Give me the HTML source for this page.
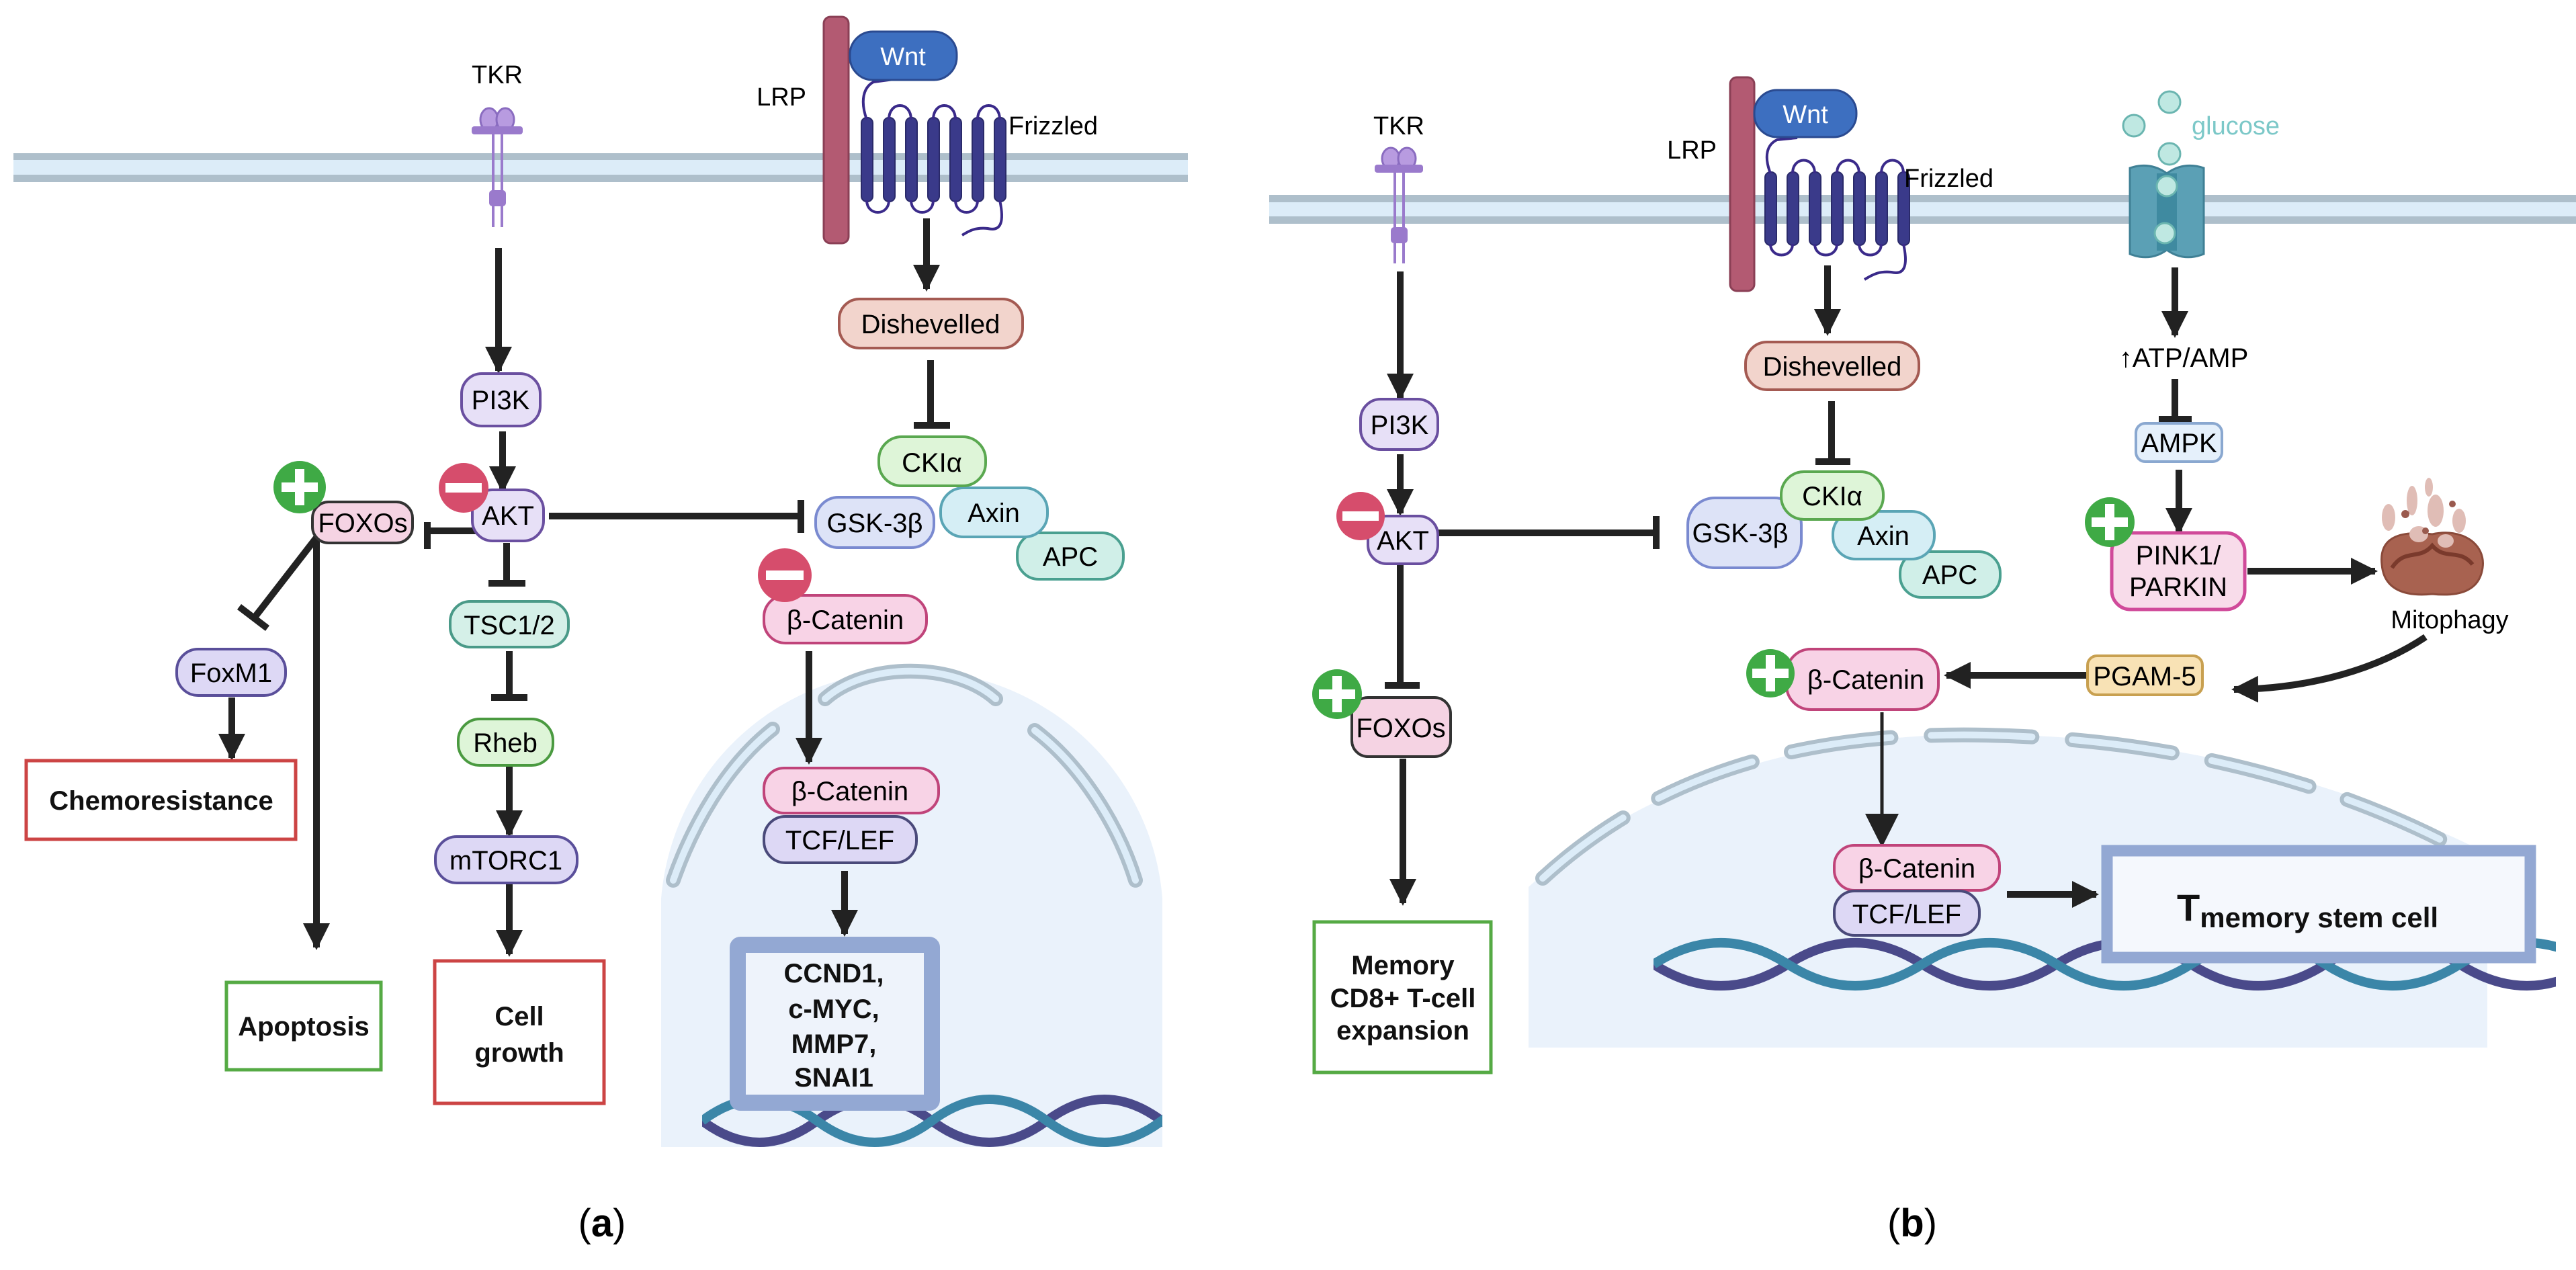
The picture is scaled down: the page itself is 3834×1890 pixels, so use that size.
<!DOCTYPE html>
<html><head><meta charset="utf-8"><style>
html,body{margin:0;padding:0;background:#fff}
svg{display:block}
text{font-family:"Liberation Sans",sans-serif}
</style></head><body>
<svg width="3834" height="1890" viewBox="0 0 3834 1890" xmlns="http://www.w3.org/2000/svg">
<defs>
<marker id="ah" viewBox="0 0 10 10" refX="9" refY="5" markerWidth="4" markerHeight="4.4" orient="auto" markerUnits="strokeWidth"><path d="M0,0 L10,5 L0,10 z" fill="#222"/></marker>
<marker id="ah2" viewBox="0 0 10 10" refX="9" refY="5" markerWidth="10" markerHeight="11" orient="auto" markerUnits="strokeWidth"><path d="M0,0 L10,5 L0,10 z" fill="#222"/></marker>
<clipPath id="ca"><rect x="1045" y="1580" width="685" height="200"/></clipPath>
<clipPath id="cb"><rect x="2461" y="1350" width="1343" height="200"/></clipPath>
</defs>

<!-- membranes -->
<rect x="20" y="228" width="1748" height="43" fill="#dcecf8"/>
<rect x="20" y="228" width="1748" height="10" fill="#aebfcb"/>
<rect x="20" y="260" width="1748" height="11" fill="#aebfcb"/>
<rect x="1889" y="290" width="1945" height="43" fill="#dcecf8"/>
<rect x="1889" y="290" width="1945" height="11" fill="#aebfcb"/>
<rect x="1889" y="322" width="1945" height="11" fill="#aebfcb"/>

<!-- ============ PANEL A ============ -->
<!-- nucleus a -->
<path d="M984,1707 L984,1337 C1000,1150 1150,1000 1357,996 C1560,1000 1715,1150 1730,1337 L1730,1707 Z" fill="#eaf2fb"/>
<g fill="none" stroke="#aebfcb" stroke-width="22" stroke-linecap="round">
<path d="M1002,1310 C1030,1230 1080,1140 1150,1085"/>
<path d="M1228,1040 C1290,985 1420,985 1482,1040"/>
<path d="M1540,1087 C1610,1140 1665,1230 1690,1310"/>
</g>
<g fill="none" stroke="#dcecf8" stroke-width="10" stroke-linecap="round">
<path d="M1002,1310 C1030,1230 1080,1140 1150,1085"/>
<path d="M1228,1040 C1290,985 1420,985 1482,1040"/>
<path d="M1540,1087 C1610,1140 1665,1230 1690,1310"/>
</g>
<g clip-path="url(#ca)" fill="none" stroke-width="14">
<path d="M1045,1668 Q1130,1732 1216,1668 T1387,1668 T1558,1668 T1729,1668 T1900,1668" stroke="#4a4a8a"/>
<path d="M1045,1668 Q1130,1604 1216,1668 T1387,1668 T1558,1668 T1729,1668 T1900,1668" stroke="#3b86a8"/>
</g>
<rect x="1098" y="1406" width="289" height="235" fill="#eef3fb" stroke="#93a8d3" stroke-width="24" rx="4"/>
<g font-weight="bold" font-size="40" text-anchor="middle" fill="#111">
<text x="1241" y="1462">CCND1,</text><text x="1241" y="1515">c-MYC,</text><text x="1241" y="1567">MMP7,</text><text x="1241" y="1617">SNAI1</text>
</g>

<!-- TKR a -->
<text x="740" y="124" font-size="38" text-anchor="middle">TKR</text>
<g>
<ellipse cx="728" cy="178" rx="13" ry="17" fill="#b89be0" stroke="#8a6cc0" stroke-width="3"/>
<ellipse cx="752" cy="178" rx="13" ry="17" fill="#b89be0" stroke="#8a6cc0" stroke-width="3"/>
<rect x="702" y="188" width="76" height="12" rx="4" fill="#9a7acc"/>
<line x1="734" y1="195" x2="734" y2="338" stroke="#9a7acc" stroke-width="4"/>
<line x1="747" y1="195" x2="747" y2="338" stroke="#9a7acc" stroke-width="4"/>
<rect x="728" y="283" width="25" height="24" rx="5" fill="#9a7acc"/>
</g>
<!-- LRP / Wnt / Frizzled a -->
<text x="1200" y="157" font-size="38" text-anchor="end">LRP</text>
<rect x="1226" y="25" width="37" height="337" rx="10" fill="#b35a72" stroke="#8a3f55" stroke-width="3"/>
<g fill="#3a3a8a" stroke="#2a2a6a" stroke-width="2">
<rect x="1282" y="175" width="17" height="125" rx="8"/><rect x="1315" y="175" width="17" height="125" rx="8"/><rect x="1348" y="175" width="17" height="125" rx="8"/><rect x="1381" y="175" width="17" height="125" rx="8"/><rect x="1414" y="175" width="17" height="125" rx="8"/><rect x="1447" y="175" width="17" height="125" rx="8"/><rect x="1480" y="175" width="17" height="125" rx="8"/>
</g>
<g fill="none" stroke="#3a2a8a" stroke-width="4">
<path d="M1323,178 C1323,150 1356,150 1356,178"/><path d="M1389,178 C1389,150 1422,150 1422,178"/><path d="M1455,178 C1455,150 1488,150 1488,178"/>
<path d="M1290,298 C1290,322 1323,322 1323,298"/><path d="M1356,298 C1356,322 1389,322 1389,298"/><path d="M1422,298 C1422,322 1455,322 1455,298"/>
<path d="M1290,178 C1280,150 1285,130 1300,122 L1330,118"/>
<path d="M1488,298 C1495,330 1490,345 1470,340 C1450,338 1440,345 1432,350"/>
</g>
<rect x="1265" y="47" width="159" height="72" rx="34" fill="#3d6fc0" stroke="#2a4a90" stroke-width="3"/>
<text x="1344" y="97" font-size="38" fill="#fff" text-anchor="middle">Wnt</text>
<text x="1501" y="200" font-size="38">Frizzled</text>

<!-- arrows a -->
<g stroke="#222" stroke-width="10" fill="none">
<line x1="742" y1="369" x2="742" y2="552" marker-end="url(#ah)"/>
<line x1="748" y1="642" x2="748" y2="730" marker-end="url(#ah)"/>
<line x1="1379" y1="325" x2="1379" y2="430" marker-end="url(#ah)"/>
<line x1="1385" y1="536" x2="1385" y2="633"/><line x1="1360" y1="633" x2="1414" y2="633"/>
<line x1="817" y1="768" x2="1192" y2="768"/><line x1="1192" y1="744" x2="1192" y2="793"/>
<line x1="709" y1="790" x2="636" y2="790"/><line x1="636" y1="777" x2="636" y2="817"/>
<line x1="754" y1="808" x2="754" y2="868"/><line x1="727" y1="868" x2="782" y2="868"/>
<line x1="758" y1="969" x2="758" y2="1038"/><line x1="731" y1="1038" x2="785" y2="1038"/>
<line x1="758" y1="1141" x2="758" y2="1242" marker-end="url(#ah)"/>
<line x1="758" y1="1316" x2="758" y2="1420" marker-end="url(#ah)"/>
<line x1="471" y1="800" x2="471" y2="1410" marker-end="url(#ah)"/>
<line x1="471" y1="800" x2="378" y2="920"/><line x1="356" y1="903" x2="398" y2="935"/>
<line x1="345" y1="1038" x2="345" y2="1128" marker-end="url(#ah)"/>
<line x1="1204" y1="969" x2="1204" y2="1134" marker-end="url(#ah)"/>
<line x1="1257" y1="1296" x2="1257" y2="1390" marker-end="url(#ah)"/>
</g>

<!-- nodes a -->
<g stroke-width="4" font-size="40" text-anchor="middle">
<rect x="1249" y="445" width="273" height="73" rx="30" fill="#f2d4cc" stroke="#a45a52"/><text x="1385" y="496" stroke="none">Dishevelled</text>
<rect x="687" y="556" width="117" height="78" rx="30" fill="#e7e0f7" stroke="#6a4fa0"/><text x="745" y="609" stroke="none">PI3K</text>
<rect x="703" y="729" width="106" height="76" rx="30" fill="#e7e0f7" stroke="#6a4fa0"/><text x="756" y="781" stroke="none">AKT</text>
<rect x="465" y="747" width="149" height="61" rx="24" fill="#f5d3e3" stroke="#333"/><text x="540" y="792" stroke="none">FOXOs</text>
<rect x="1214" y="740" width="176" height="75" rx="34" fill="#dde3f7" stroke="#7a8ad0"/><text x="1302" y="792" stroke="none">GSK-3β</text>
<rect x="1514" y="793" width="158" height="69" rx="32" fill="#d0efe8" stroke="#4aa090"/><text x="1593" y="842" stroke="none">APC</text>
<rect x="1400" y="726" width="159" height="73" rx="34" fill="#d5eef5" stroke="#5aa5b5"/><text x="1479" y="777" stroke="none">Axin</text>
<rect x="1308" y="650" width="159" height="73" rx="34" fill="#def5d8" stroke="#5aa850"/><text x="1387" y="702" stroke="none">CKIα</text>
<rect x="1137" y="886" width="242" height="71" rx="32" fill="#f8d3e6" stroke="#c0447a"/><text x="1258" y="936" stroke="none">β-Catenin</text>
<rect x="670" y="895" width="176" height="68" rx="30" fill="#d5f0e8" stroke="#4a9a88"/><text x="758" y="944" stroke="none">TSC1/2</text>
<rect x="263" y="966" width="162" height="69" rx="32" fill="#ddd8f5" stroke="#5a4f9a"/><text x="344" y="1015" stroke="none">FoxM1</text>
<rect x="682" y="1070" width="141" height="69" rx="32" fill="#def5d8" stroke="#4a9a40"/><text x="752" y="1119" stroke="none">Rheb</text>
<rect x="648" y="1245" width="211" height="69" rx="32" fill="#ddd8f5" stroke="#5a4f9a"/><text x="753" y="1294" stroke="none">mTORC1</text>
<rect x="1137" y="1143" width="260" height="67" rx="30" fill="#f8d3e6" stroke="#c0447a"/><text x="1265" y="1191" stroke="none">β-Catenin</text>
<rect x="1137" y="1215" width="227" height="69" rx="32" fill="#ddd8f5" stroke="#4a4a7a"/><text x="1250" y="1264" stroke="none">TCF/LEF</text>
</g>

<!-- outcome boxes a -->
<g fill="#fff" stroke-width="5">
<rect x="39" y="1132" width="401" height="117" stroke="#cc4444"/>
<rect x="337" y="1462" width="230" height="130" stroke="#55aa44"/>
<rect x="647" y="1430" width="252" height="212" stroke="#cc4444"/>
</g>
<g font-weight="bold" font-size="40" text-anchor="middle" fill="#111">
<text x="240" y="1205">Chemoresistance</text>
<text x="452" y="1541">Apoptosis</text>
<text x="773" y="1526">Cell</text><text x="773" y="1580">growth</text>
</g>

<!-- +/- a -->
<circle cx="690" cy="726" r="37" fill="#d64d6c"/><rect x="663" y="719" width="54" height="14" fill="#fff"/>
<circle cx="446" cy="725" r="39" fill="#3faa45"/><rect x="419" y="718" width="54" height="14" fill="#fff"/><rect x="439" y="698" width="14" height="54" fill="#fff"/>
<circle cx="1168" cy="856" r="40" fill="#d64d6c"/><rect x="1140" y="849" width="56" height="14" fill="#fff"/>

<text x="896" y="1840" font-family="Liberation Serif,serif" font-size="58" text-anchor="middle">(<tspan font-weight="bold">a</tspan>)</text>

<!-- ============ PANEL B ============ -->
<path d="M2275,1559 L2275,1320 C2450,1160 2700,1090 2956,1093 C3250,1095 3500,1170 3702,1270 L3702,1559 Z" fill="#eaf2fb"/>
<path d="M2296,1307 C2500,1120 2750,1090 2956,1094 C3250,1100 3480,1170 3653,1260" fill="none" stroke="#aebfcb" stroke-width="22" stroke-linecap="round" stroke-dasharray="150 60"/>
<path d="M2296,1307 C2500,1120 2750,1090 2956,1094 C3250,1100 3480,1170 3653,1260" fill="none" stroke="#dcecf8" stroke-width="10" stroke-linecap="round" stroke-dasharray="150 60"/>
<g clip-path="url(#cb)" fill="none" stroke-width="14">
<path d="M2461,1435 Q2561,1499 2661,1435 T2861,1435 T3061,1435 T3261,1435 T3461,1435 T3661,1435 T3861,1435" stroke="#4a4a8a"/>
<path d="M2461,1435 Q2561,1371 2661,1435 T2861,1435 T3061,1435 T3261,1435 T3461,1435 T3661,1435 T3861,1435" stroke="#3b86a8"/>
</g>
<rect x="3136" y="1266" width="630" height="159" fill="#f5f8fd" stroke="#93a8d3" stroke-width="17"/>
<text x="3240" y="1370" font-weight="bold" font-size="56" fill="#111">T<tspan font-size="42" dy="10">memory stem cell</tspan></text>

<!-- TKR b -->
<text x="2082" y="200" font-size="38" text-anchor="middle">TKR</text>
<ellipse cx="2070" cy="236" rx="13" ry="16" fill="#b89be0" stroke="#8a6cc0" stroke-width="3"/>
<ellipse cx="2094" cy="236" rx="13" ry="16" fill="#b89be0" stroke="#8a6cc0" stroke-width="3"/>
<rect x="2046" y="245" width="72" height="12" rx="4" fill="#9a7acc"/>
<line x1="2076" y1="252" x2="2076" y2="392" stroke="#9a7acc" stroke-width="4"/>
<line x1="2089" y1="252" x2="2089" y2="392" stroke="#9a7acc" stroke-width="4"/>
<rect x="2070" y="338" width="25" height="24" rx="5" fill="#9a7acc"/>

<!-- LRP/Wnt/Frizzled b -->
<text x="2555" y="236" font-size="38" text-anchor="end">LRP</text>
<rect x="2575" y="115" width="36" height="318" rx="10" fill="#b35a72" stroke="#8a3f55" stroke-width="3"/>
<g fill="#3a3a8a" stroke="#2a2a6a" stroke-width="2">
<rect x="2627" y="256" width="17" height="109" rx="8"/><rect x="2660" y="256" width="17" height="109" rx="8"/><rect x="2693" y="256" width="17" height="109" rx="8"/><rect x="2726" y="256" width="17" height="109" rx="8"/><rect x="2759" y="256" width="17" height="109" rx="8"/><rect x="2792" y="256" width="17" height="109" rx="8"/><rect x="2825" y="256" width="17" height="109" rx="8"/>
</g>
<g fill="none" stroke="#3a2a8a" stroke-width="4">
<path d="M2668,258 C2668,232 2701,232 2701,258"/><path d="M2734,258 C2734,232 2767,232 2767,258"/><path d="M2800,258 C2800,232 2833,232 2833,258"/>
<path d="M2635,363 C2635,385 2668,385 2668,363"/><path d="M2701,363 C2701,385 2734,385 2734,363"/><path d="M2767,363 C2767,385 2800,385 2800,363"/>
<path d="M2635,258 C2625,232 2630,215 2645,208 L2675,205"/>
<path d="M2833,363 C2840,395 2835,410 2815,405 C2795,403 2785,410 2775,416"/>
</g>
<rect x="2611" y="134" width="152" height="70" rx="34" fill="#3d6fc0" stroke="#2a4a90" stroke-width="3"/>
<text x="2687" y="183" font-size="38" fill="#fff" text-anchor="middle">Wnt</text>
<text x="2834" y="278" font-size="38">Frizzled</text>

<!-- glucose -->
<g fill="#bfe8e2" stroke="#6ab5b0" stroke-width="3">
<circle cx="3229" cy="152" r="16"/><circle cx="3176" cy="187" r="16"/><circle cx="3229" cy="229" r="16"/>
</g>
<text x="3262" y="200" font-size="38" fill="#7cc8c8">glucose</text>
<path d="M3170,250 Q3200,240 3225,258 Q3250,240 3280,250 L3280,378 Q3250,390 3225,372 Q3200,390 3170,378 Z" fill="#5ba0b5" stroke="#3f8095" stroke-width="3"/>
<rect x="3210" y="258" width="30" height="115" fill="#3f8aa0"/>
<circle cx="3225" cy="277" r="15" fill="#bfe8e2" stroke="#6ab5b0" stroke-width="3"/>
<circle cx="3222" cy="347" r="15" fill="#bfe8e2" stroke="#6ab5b0" stroke-width="3"/>
<text x="3250" y="546" font-size="40" text-anchor="middle">↑ATP/AMP</text>

<!-- mitochondrion -->
<path d="M3545,840 C3540,795 3580,790 3620,795 C3665,785 3700,810 3695,845 C3690,880 3660,888 3620,884 C3580,888 3548,878 3545,840 Z" fill="#a86250" stroke="#8a4a3a" stroke-width="3"/>
<path d="M3560,845 C3580,815 3600,835 3620,812 C3640,835 3660,815 3680,840" fill="none" stroke="#7a3a2c" stroke-width="6"/>
<g fill="#e0bdb6">
<ellipse cx="3555" cy="770" rx="10" ry="20"/><ellipse cx="3590" cy="745" rx="8" ry="22"/><ellipse cx="3625" cy="760" rx="12" ry="24"/><ellipse cx="3660" cy="775" rx="10" ry="18"/><ellipse cx="3600" cy="795" rx="14" ry="12"/><ellipse cx="3640" cy="805" rx="12" ry="10"/><ellipse cx="3615" cy="725" rx="6" ry="14"/>
</g>
<g fill="#9a5a4e"><circle cx="3580" cy="765" r="6"/><circle cx="3650" cy="750" r="5"/><circle cx="3610" cy="790" r="5"/></g>
<text x="3646" y="935" font-size="38" text-anchor="middle">Mitophagy</text>

<!-- arrows b -->
<g stroke="#222" stroke-width="10" fill="none">
<line x1="2084" y1="404" x2="2084" y2="592" marker-end="url(#ah)"/>
<line x1="2084" y1="676" x2="2084" y2="764" marker-end="url(#ah)"/>
<line x1="2140" y1="793" x2="2465" y2="793"/><line x1="2465" y1="768" x2="2465" y2="817"/>
<line x1="2084" y1="839" x2="2084" y2="1020"/><line x1="2061" y1="1020" x2="2113" y2="1020"/>
<line x1="2088" y1="1129" x2="2088" y2="1344" marker-end="url(#ah)"/>
<line x1="2720" y1="395" x2="2720" y2="496" marker-end="url(#ah)"/>
<line x1="2726" y1="597" x2="2726" y2="687"/><line x1="2702" y1="687" x2="2754" y2="687"/>
<line x1="3237" y1="398" x2="3237" y2="499" marker-end="url(#ah)"/>
<line x1="3237" y1="564" x2="3237" y2="624"/><line x1="3213" y1="624" x2="3262" y2="624"/>
<line x1="3243" y1="699" x2="3243" y2="792" marker-end="url(#ah)"/>
<line x1="3345" y1="850" x2="3535" y2="850" marker-end="url(#ah)"/>
<line x1="3107" y1="1005" x2="2897" y2="1005" marker-end="url(#ah)"/>
<line x1="2987" y1="1331" x2="3120" y2="1331" marker-end="url(#ah)"/>
<path d="M3610,948 C3540,995 3440,1025 3325,1026" marker-end="url(#ah)"/>
<line x1="2801" y1="1060" x2="2801" y2="1256" stroke-width="5" marker-end="url(#ah2)"/>
</g>

<!-- nodes b -->
<g stroke-width="4" font-size="40" text-anchor="middle">
<rect x="2025" y="594" width="115" height="75" rx="30" fill="#e7e0f7" stroke="#6a4fa0"/><text x="2083" y="646" stroke="none">PI3K</text>
<rect x="2036" y="768" width="104" height="71" rx="28" fill="#e7e0f7" stroke="#6a4fa0"/><text x="2088" y="818" stroke="none">AKT</text>
<rect x="2598" y="509" width="258" height="71" rx="32" fill="#f2d4cc" stroke="#a45a52"/><text x="2727" y="559" stroke="none">Dishevelled</text>
<rect x="2512" y="741" width="169" height="104" rx="40" fill="#dde3f7" stroke="#7a8ad0"/><text x="2590" y="807" stroke="none">GSK-3β</text>
<rect x="2828" y="821" width="149" height="68" rx="32" fill="#d0efe8" stroke="#4aa090"/><text x="2902" y="869" stroke="none">APC</text>
<rect x="2728" y="761" width="151" height="71" rx="34" fill="#d5eef5" stroke="#5aa5b5"/><text x="2803" y="811" stroke="none">Axin</text>
<rect x="2651" y="702" width="152" height="71" rx="34" fill="#def5d8" stroke="#5aa850"/><text x="2727" y="752" stroke="none">CKIα</text>
<rect x="3179" y="630" width="128" height="57" rx="14" fill="#e5f0fb" stroke="#8aa8d0"/><text x="3243" y="673" stroke="none">AMPK</text>
<rect x="3143" y="793" width="198" height="114" rx="28" fill="#f8dcea" stroke="#d04a9a" stroke-width="5"/><text x="3242" y="840" stroke="none">PINK1/</text><text x="3242" y="887" stroke="none">PARKIN</text>
<rect x="3107" y="976" width="171" height="58" rx="14" fill="#f8e2b5" stroke="#c8a050"/><text x="3192" y="1020" stroke="none">PGAM-5</text>
<rect x="2659" y="966" width="226" height="90" rx="36" fill="#f8d3e6" stroke="#c0447a"/><text x="2777" y="1025" stroke="none">β-Catenin</text>
<rect x="2012" y="1038" width="147" height="88" rx="24" fill="#f5d3e3" stroke="#333"/><text x="2085" y="1097" stroke="none">FOXOs</text>
<rect x="2730" y="1258" width="246" height="67" rx="30" fill="#f8d3e6" stroke="#c0447a"/><text x="2853" y="1306" stroke="none">β-Catenin</text>
<rect x="2730" y="1326" width="216" height="66" rx="30" fill="#ddd8f5" stroke="#4a4a7a"/><text x="2838" y="1374" stroke="none">TCF/LEF</text>
</g>

<rect x="1956" y="1372" width="263" height="224" fill="#fff" stroke="#55aa44" stroke-width="5"/>
<g font-weight="bold" font-size="40" text-anchor="middle" fill="#111">
<text x="2088" y="1450">Memory</text><text x="2088" y="1499">CD8+ T-cell</text><text x="2088" y="1547">expansion</text>
</g>

<!-- +/- b -->
<circle cx="2025" cy="768" r="36" fill="#d64d6c"/><rect x="1998" y="761" width="54" height="14" fill="#fff"/>
<circle cx="3140" cy="777" r="37" fill="#3faa45"/><rect x="3113" y="770" width="54" height="14" fill="#fff"/><rect x="3133" y="750" width="14" height="54" fill="#fff"/>
<circle cx="2635" cy="1002" r="36" fill="#3faa45"/><rect x="2608" y="995" width="54" height="14" fill="#fff"/><rect x="2628" y="975" width="14" height="54" fill="#fff"/>
<circle cx="1990" cy="1033" r="37" fill="#3faa45"/><rect x="1963" y="1026" width="54" height="14" fill="#fff"/><rect x="1983" y="1006" width="14" height="54" fill="#fff"/>

<text x="2846" y="1840" font-family="Liberation Serif,serif" font-size="58" text-anchor="middle">(<tspan font-weight="bold">b</tspan>)</text>
</svg>
</body></html>
